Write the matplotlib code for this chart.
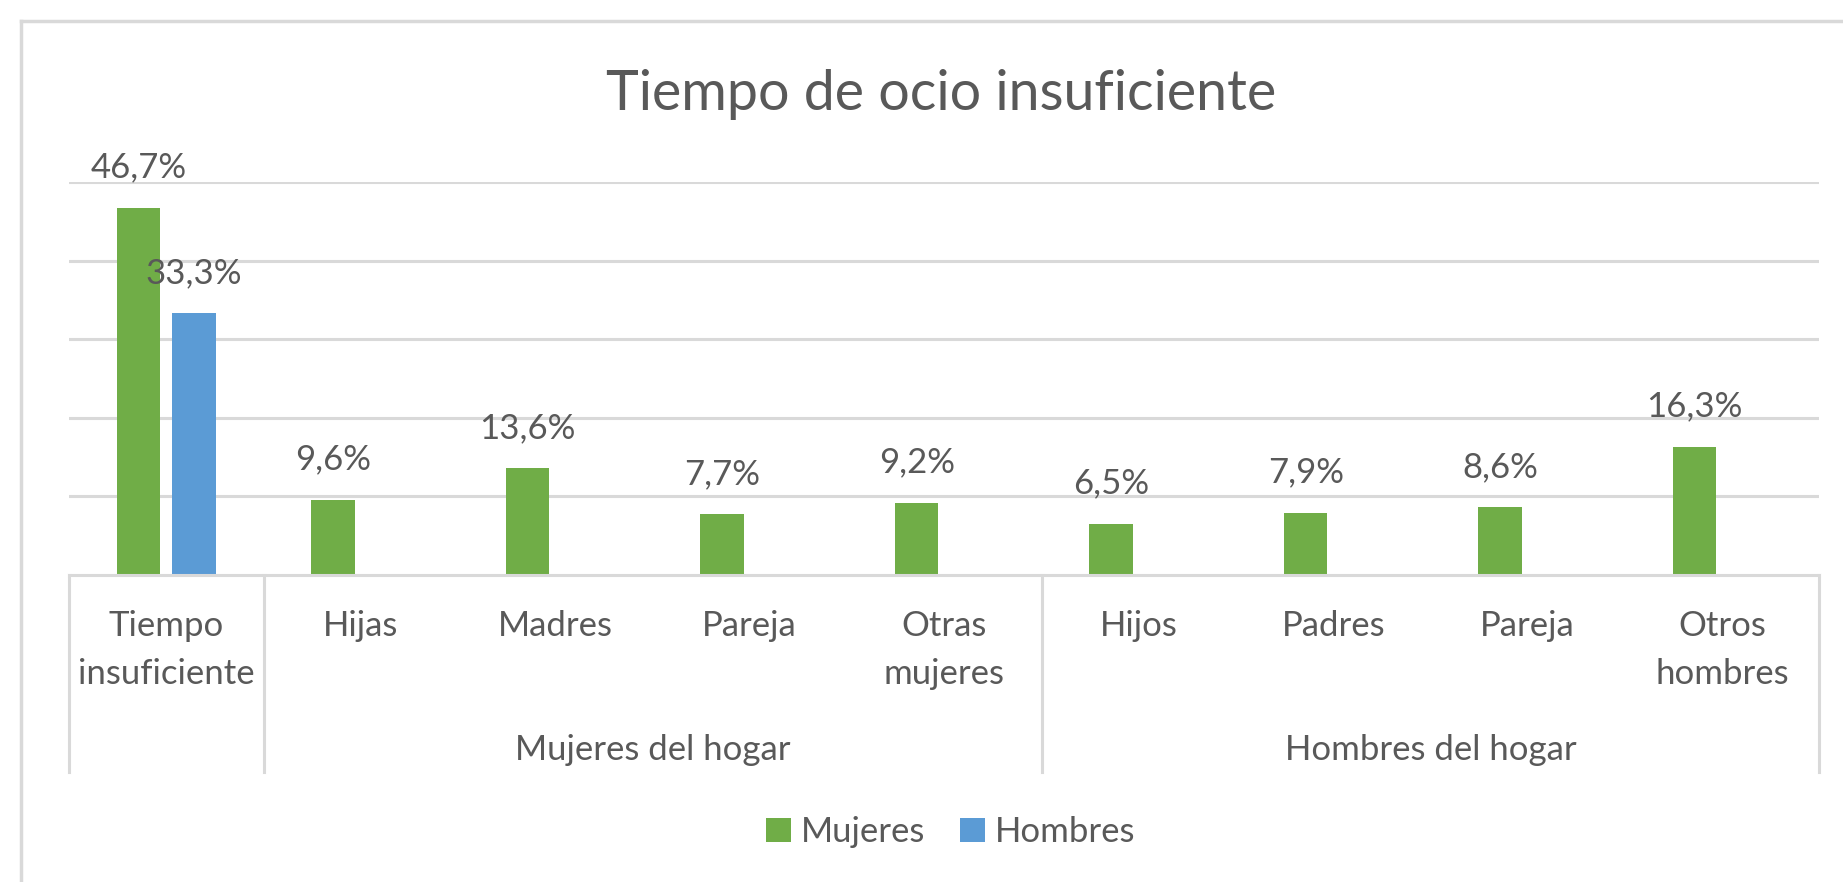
import matplotlib
matplotlib.use("Agg")
import matplotlib.pyplot as plt
from matplotlib.lines import Line2D
from matplotlib.patches import Patch
import matplotlib.transforms as mtransforms

# ---- data ----
categories = ["Tiempo\ninsuficiente", "Hijas", "Madres", "Pareja", "Otras\nmujeres",
              "Hijos", "Padres", "Pareja", "Otros\nhombres"]
groups = ["", "Mujeres del hogar", "Hombres del hogar"]
group_spans = [(0, 0), (1, 4), (5, 8)]
mujeres = [46.7, 9.6, 13.6, 7.7, 9.2, 6.5, 7.9, 8.6, 16.3]
hombres = [33.3, None, None, None, None, None, None, None, None]
series_names = ["Mujeres", "Hombres"]
title = "Tiempo de ocio insuficiente"

GREEN = "#70AD47"
BLUE = "#5B9BD5"
TXT = "#595959"
GRID = "#D9D9D9"
FONT = ["Lato", "DejaVu Sans"]

plt.rcParams['font.family'] = FONT

W, H = 1843, 882
fig = plt.figure(figsize=(W / 100, H / 100), dpi=100)
fig.patch.set_facecolor("white")

# axes placement (pixels)
ax_left, ax_right = 69, 1819.5
ax_bottom_px, ax_top_px = 575, 182
ax = fig.add_axes([ax_left / W, 1 - ax_bottom_px / H,
                   (ax_right - ax_left) / W, (ax_bottom_px - ax_top_px) / H])

n = len(categories)
xs = list(range(n))
bw = 0.2236
off = 0.142

ax.set_xlim(-0.5, n - 0.5)
ax.set_ylim(0, 50)
ax.set_yticks([10, 20, 30, 40, 50])
ax.yaxis.grid(True, color=GRID, linewidth=2.2)
ax.set_axisbelow(True)
for s in ["top", "right", "left"]:
    ax.spines[s].set_visible(False)
ax.spines["bottom"].set_color(GRID)
ax.spines["bottom"].set_linewidth(2.2)
ax.tick_params(left=False, labelleft=False, bottom=False, labelbottom=False)

lbl_fs = 25
for i in xs:
    ax.bar(i - off, mujeres[i], width=bw, color=GREEN, zorder=2)
    ax.annotate(f"{mujeres[i]:.1f}%".replace(".", ","), (i - off, mujeres[i]),
                xytext=(0, 29), textcoords="offset points", ha="center", va="center",
                fontsize=lbl_fs, color=TXT, zorder=5)
    if hombres[i] is not None:
        ax.bar(i + off, hombres[i], width=bw, color=BLUE, zorder=2)
        ax.annotate(f"{hombres[i]:.1f}%".replace(".", ","), (i + off, hombres[i]),
                    xytext=(0, 29), textcoords="offset points", ha="center", va="center",
                    fontsize=lbl_fs, color=TXT, zorder=5)

trans = mtransforms.blended_transform_factory(ax.transData, ax.transAxes)
axh = ax_bottom_px - ax_top_px
# category labels (one text per line for exact line positions)
for i, c in enumerate(categories):
    lines = c.split("\n")
    for li, ytxt in zip(lines, [626.5, 673.5]):
        ax.text(i, -(ytxt - ax_bottom_px) / axh, li, transform=trans, ha="center",
                va="center", fontsize=lbl_fs, color=TXT)

# group labels
for g, (a, b) in zip(groups, group_spans):
    if g:
        ax.text((a + b) / 2, -(750 - ax_bottom_px) / axh, g, transform=trans, ha="center",
                va="center", fontsize=lbl_fs, color=TXT)

# separators
sep_bottom = -(772 - ax_bottom_px) / axh
seps = [-0.5] + [b + 0.5 for (a, b) in group_spans]
for s in seps:
    ax.add_line(Line2D([s, s], [0, sep_bottom], transform=trans, color=GRID,
                       linewidth=2.2, clip_on=False))

# title
fig.text(941 / W, 1 - 94 / H, title, ha="center", va="center",
         fontsize=40, color=TXT)

# legend
handles = [Patch(facecolor=GREEN, label=series_names[0]),
           Patch(facecolor=BLUE, label=series_names[1])]
leg = fig.legend(handles=handles, loc="center", bbox_to_anchor=(951 / W, 1 - 832 / H),
                 ncol=2, frameon=False, fontsize=lbl_fs, handlelength=0.7, handleheight=0.7,
                 handletextpad=0.3, columnspacing=1.0, labelcolor=TXT)

# outer frame (cropped chart area border)
fig.add_artist(Line2D([21 / W, 21 / W], [1 - 21 / H, 0], transform=fig.transFigure,
                      color=GRID, linewidth=2.5))
fig.add_artist(Line2D([21 / W, 1], [1 - 21 / H, 1 - 21 / H], transform=fig.transFigure,
                      color=GRID, linewidth=2.5))

fig.savefig("out.png", dpi=100, facecolor="white")
